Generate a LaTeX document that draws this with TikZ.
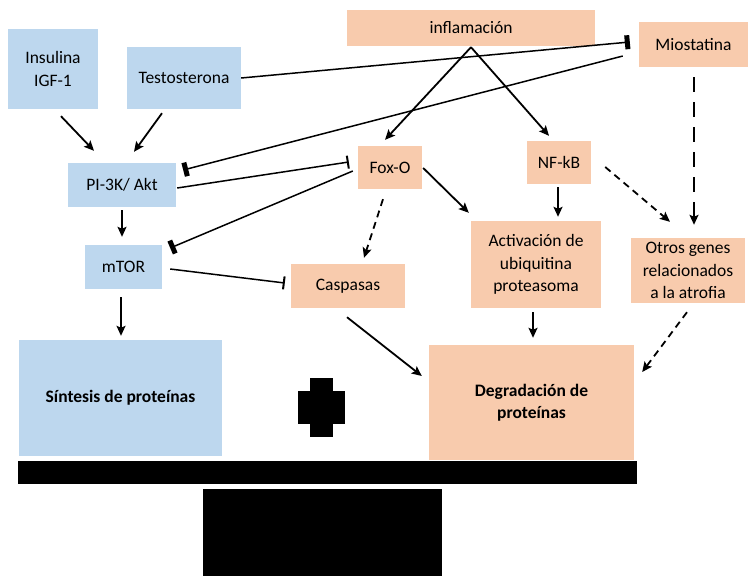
\documentclass[tikz,border=0pt]{standalone}
\usepackage{fontspec}
\setmainfont{Carlito}
\usetikzlibrary{arrows.meta}
\definecolor{bluebox}{HTML}{BDD7EE}
\definecolor{orangebox}{HTML}{F8CBAD}
\tikzset{
  boxbase/.style={inner sep=0pt, align=center, font=\fontsize{17.5}{22.5}\selectfont},
  bluen/.style={boxbase, fill=bluebox},
  orangen/.style={boxbase, fill=orangebox},
  wh/.style 2 args={minimum width=#1pt, minimum height=#2pt},
  act/.style={line width=1.8pt, -{Stealth[length=10pt,width=9pt,inset=2pt]}},
  dact/.style={act, dash pattern=on 7pt off 5pt},
  ldact/.style={act, dash pattern=on 15pt off 10pt},
  inhthick/.style={line width=1.5pt, -{Bar[width=14pt,line width=5pt]}},
  inhthin/.style={line width=1.5pt, -{Bar[width=13pt,line width=2pt]}},
}
\begin{document}
\begin{tikzpicture}[x=1pt,y=-1pt]
\useasboundingbox (0,0) rectangle (751,576);
% blue nodes
\node[bluen, wh={90}{80}] (ins) at (53,69) {Insulina\\IGF-1};
\node[bluen, wh={114}{62}] (tes) at (184,78) {Testosterona};
\node[bluen, wh={108}{44}] (pi) at (122,185) {PI-3K/ Akt};
\node[bluen, wh={77}{44}] (mtor) at (123.5,267) {mTOR};
\node[bluen, wh={203}{116}, font=\fontsize{17.5}{22.5}\selectfont\bfseries] (sint) at (120.5,398) {Síntesis de proteínas};
% orange nodes
\node[orangen, wh={248}{36}] (infl) at (471,28) {inflamación};
\node[orangen, wh={109}{45}] (mio) at (693.5,44.5) {Miostatina};
\node[orangen, wh={64}{43}] (fox) at (390,167.5) {Fox-O};
\node[orangen, wh={64}{43}] (nfkb) at (559,162.5) {NF-kB};
\node[orangen, wh={114}{44}] (cas) at (348,286) {Caspasas};
\node[orangen, wh={130}{87}] (actn) at (536,264.5) {Activación de\\ubiquitina\\proteasoma};
\node[orangen, wh={114}{65}] (otros) at (688,270.5) {Otros genes\\relacionados\\a la atrofia};
\node[orangen, wh={205}{115}, font=\fontsize{17.5}{22.5}\selectfont\bfseries] (deg) at (531.5,402.5) {Degradación de\\proteínas};
% black shapes
\fill[black] (18,461) rectangle (637,484);
\fill[black] (203,489) rectangle (442,576);
\fill[black] (310,378) rectangle (333,437);
\fill[black] (298,391) rectangle (345,424);
% activation arrows
\draw[act] ([shift={(8,7)}]ins.south) -- ([shift={(-28,-12)}]pi.north);
\draw[act] ([shift={(-22,4)}]tes.south) -- ([shift={(12,-11)}]pi.north);
\draw[act] ([shift={(0,3)}]pi.south) -- ([shift={(-1.5,-8)}]mtor.north);
\draw[act] ([shift={(-2.5,8)}]mtor.south) -- ([shift={(0.5,-4)}]sint.north);
\draw[act] ([shift={(0,1)}]infl.south) -- ([shift={(-5,-6)}]fox.north);
\draw[act] ([shift={(0,1)}]infl.south) -- ([shift={(-10,-5)}]nfkb.north);
\draw[act] ([shift={(1,0.5)}]fox.east) -- ([shift={(-2,-8)}]actn.north west);
\draw[act] ([shift={(-1,3)}]nfkb.south) -- ([shift={(22,-4)}]actn.north);
\draw[act] ([shift={(-1,9)}]cas.south) -- ([shift={(-7,-26.5)}]deg.west);
\draw[act] ([shift={(-3,4)}]actn.south) -- ([shift={(1.5,-7)}]deg.north);
% dashed arrows
\draw[dact] ([shift={(-7,10)}]fox.south) -- ([shift={(16,-6)}]cas.north);
\draw[dact] ([shift={(14,4.5)}]nfkb.east) -- ([shift={(-18,-16)}]otros.north);
\draw[ldact] ([shift={(0.5,10)}]mio.south) -- ([shift={(6,-13)}]otros.north);
\draw[dact] ([shift={(-1,9)}]otros.south) -- ([shift={(8,-30.5)}]deg.east);
% inhibitions
\draw[inhthick] (tes.east) -- ([shift={(-9,-2.5)}]mio.west);
\draw[inhthick] ([shift={(-16,11.5)}]mio.west) -- ([shift={(7,-15)}]pi.east);
\draw[inhthin] ([shift={(1,3)}]pi.east) -- ([shift={(-9,-5.5)}]fox.west);
\draw[inhthick] ([shift={(-5,3.5)}]fox.west) -- ([shift={(8,-19)}]mtor.east);
\draw[inhthin] ([shift={(8,2)}]mtor.east) -- ([shift={(-6,-3)}]cas.west);
\end{tikzpicture}
\end{document}
